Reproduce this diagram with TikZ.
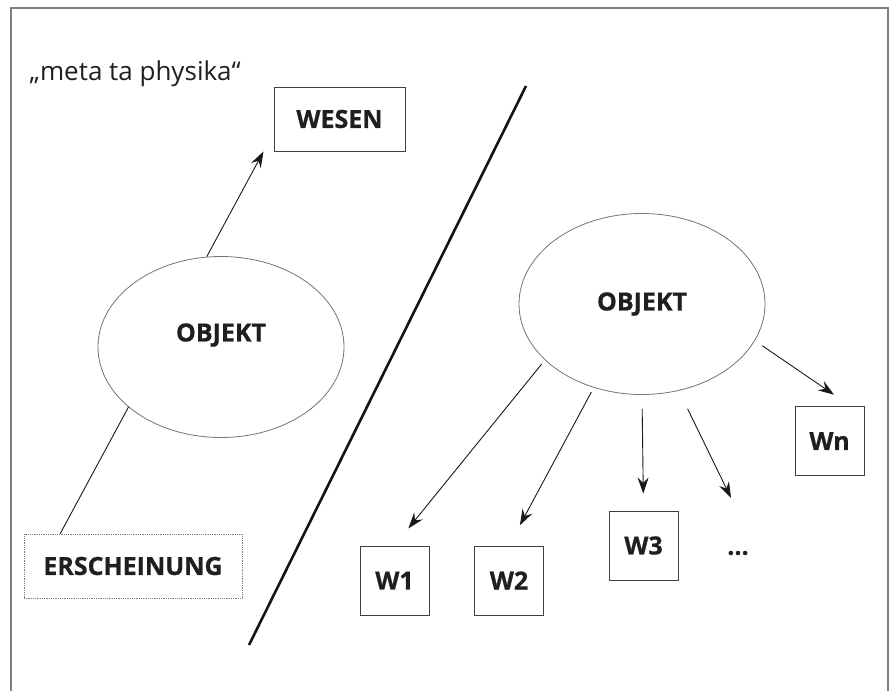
\documentclass[tikz,border=0pt]{standalone}
\usepackage{fontspec}
\setmainfont{Open Sans}[BoldFeatures={FakeBold=0.7}]
\usetikzlibrary{arrows.meta,calc,shapes.geometric}
\begin{document}
\begin{tikzpicture}[x=1pt,y=-1pt,
  lbl/.style={font=\fontsize{25}{28}\selectfont\bfseries, text=black!88},
  wbox/.style={draw=black!75, line width=1pt, minimum width=69pt, minimum height=69pt, inner sep=0pt, lbl},
  obj/.style={ellipse, draw=black!55, line width=0.8pt, minimum width=246pt, minimum height=181pt, inner sep=0pt, lbl},
  arr/.style={line width=0.9pt, draw=black!90, -{Stealth[length=16pt,width=11pt,inset=5.5pt]}},
  plain/.style={line width=0.9pt, draw=black!90},
  frame/.style={draw=black!50, line width=1.5pt},
  divider/.style={draw=black!92, line width=2.6pt}]
\useasboundingbox (0,0) rectangle (893,691);
% frame
\draw[frame] (11,691) -- (11,8) -- (888,8) -- (888,691);
% divider
\draw[divider] (526,86) -- (249,645);
% left side
\node[anchor=base west, font=\fontsize{26}{30}\selectfont, text=black!88] (meta) at (26,80) {„meta ta physika“};
\node[wbox, minimum width=131pt, minimum height=64pt] (wesen) at (339.5,119) {WESEN};
\node[obj, label={[lbl, yshift=12pt]center:OBJEKT}] (obj1) at (221,347) {};
\node[draw=black!50, densely dotted, line width=0.8pt, minimum width=218pt, minimum height=64pt, inner sep=0pt, lbl] (ersch) at (133,566) {ERSCHEINUNG};
\draw[plain] (ersch.156) -- (obj1.213);
\draw[arr] (obj1.99) -- ([xshift=-10pt]wesen.south west);
% right side
\node[obj] (obj2) at (642,304) {OBJEKT};
\node[wbox] (w1) at (394.5,580.5) {W1};
\node[wbox] (w2) at (509,580.5) {W2};
\node[wbox] (w3) at (643.5,545.5) {W3};
\node[wbox] (wn) at (829.5,441) {Wn};
\node[lbl] (dots) at (738,553) {...};
\coordinate (dtip) at (731,498);
\draw[arr, shorten <=5pt, shorten >=22pt] (obj2.210) -- (w1.north);
\draw[arr, shorten <=5pt, shorten >=23pt] (obj2.240) -- (w2.north);
\draw[arr, shorten <=14pt, shorten >=17pt] (obj2.south) -- (w3.north);
\draw[arr, shorten <=20pt] (obj2.293) -- (dtip);
\draw[arr, shorten <=9pt, shorten >=20pt] (obj2.342) -- (wn.59);
\end{tikzpicture}
\end{document}
